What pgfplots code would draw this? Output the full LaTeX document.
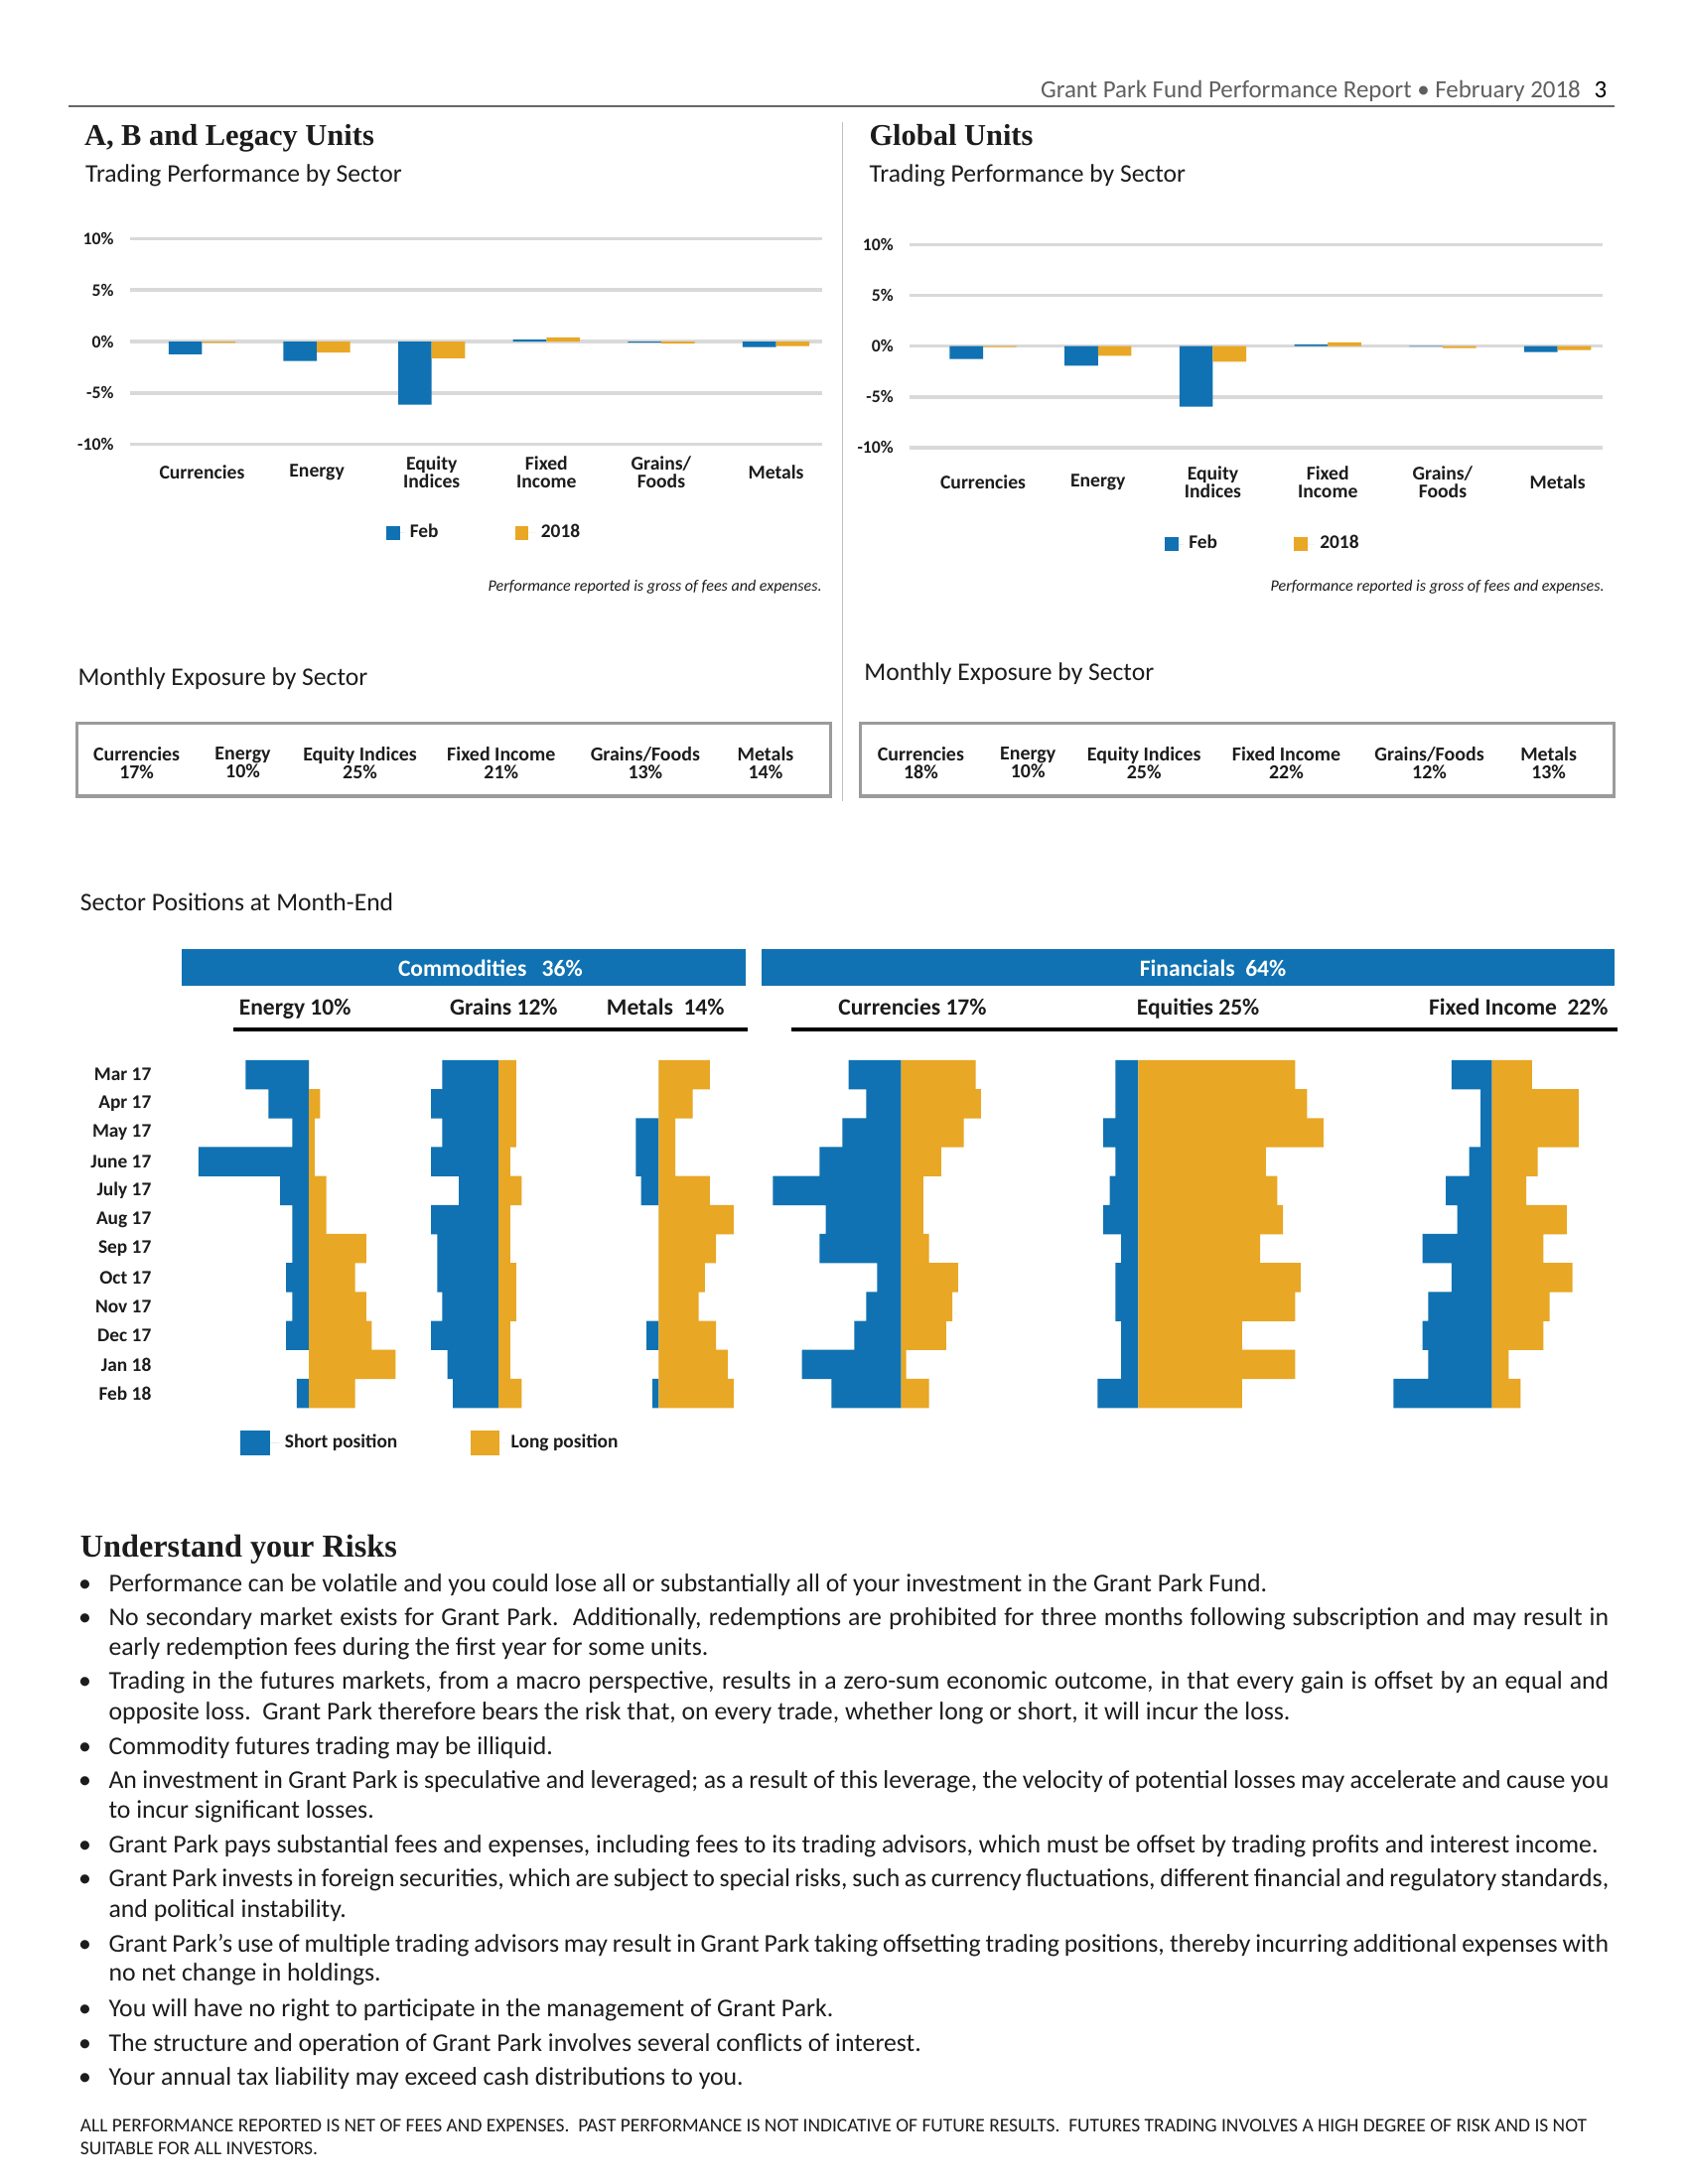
\documentclass[border=0pt]{standalone}
\usepackage{fontspec}
\setmainfont{Carlito}
\newfontfamily\headfont{Liberation Serif}
\usepackage{pgfplots}
\usepackage{pgfplotstable}
\pgfplotsset{compat=1.18}
\definecolor{cblue}{RGB}{16,114,178}
\definecolor{corange}{RGB}{232,167,36}
\definecolor{gridgray}{RGB}{217,217,217}
\definecolor{boxgray}{RGB}{155,155,155}
\definecolor{hdrgray}{RGB}{95,95,95}
\definecolor{txt}{RGB}{28,28,28}
\newcommand\fs[1]{\fontsize{#1}{#1}\selectfont}

% Sector positions at month-end (short <0, long >0), rows Mar 17 ... Feb 18
\pgfplotstableread{
row es el gs gl ms ml cs cl qs ql fis fil
0 -45.5 0.0 -40.4 12.7 0.0 36.7 -37.7 53.6 -16.4 112.6 -29.1 28.7
1 -29.1 8.0 -48.4 12.7 0.0 24.4 -25.0 57.3 -16.4 121.2 -8.2 62.2
2 -12.0 4.0 -40.4 12.7 -16.4 12.0 -42.2 45.0 -25.0 133.0 -8.2 62.2
3 -79.3 4.0 -48.4 8.4 -16.4 12.0 -58.5 28.7 -16.4 91.7 -16.4 32.7
4 -20.7 12.4 -28.4 16.7 -12.7 36.7 -92.1 16.0 -20.5 99.9 -33.2 24.6
5 -12.0 12.4 -48.4 8.4 0.0 53.8 -54.0 16.0 -25.0 104.0 -25.0 53.6
6 -12.0 41.1 -44.0 8.4 0.0 41.1 -58.5 20.1 -12.3 87.6 -49.9 36.8
7 -16.4 33.1 -44.0 12.7 0.0 33.1 -17.2 40.9 -16.4 116.6 -29.1 57.7
8 -12.0 41.1 -40.4 12.7 0.0 28.7 -25.0 36.8 -16.4 112.6 -45.8 41.3
9 -16.4 45.1 -48.4 8.4 -8.7 41.1 -33.6 32.3 -12.3 74.5 -49.9 36.8
10 0.0 62.2 -36.7 8.4 0.0 49.5 -71.2 3.7 -12.3 112.6 -45.8 11.9
11 -8.7 33.1 -32.7 16.7 -4.4 53.8 -49.9 20.1 -29.1 74.5 -70.8 20.5
}\postab

\pgfplotsset{
  perf/.style={
    anchor=south west, scale only axis,
    ymin=-10, ymax=10,
    axis line style={draw=none}, major tick style={draw=none},
    ytick={-10,-5,0,5,10}, yticklabels={-10\%,-5\%,0\%,5\%,10\%},
    ymajorgrids, grid style={line width=1.3bp, color=gridgray},
    xtick={0,1,2,3,4,5},
    xticklabels={Currencies,Energy,{Equity\\Indices},{Fixed\\Income},{Grains/\\Foods},Metals},
    xticklabel style={align=center, anchor=center, inner sep=0pt, font=\bfseries\fontsize{7.1}{6.5}\selectfont, text=txt},
    yticklabel style={anchor=east, inner sep=0pt, font=\bfseries\fs{6.4}, text=txt},
    legend columns=2,
    legend style={draw=none, fill=none, inner sep=0pt, font=\bfseries\fs{7}, text=txt,
      /tikz/every even column/.append style={column sep=25.8bp}},
  },
  posax/.style={
    anchor=south west, x=0.50495bp, y=10.503bp, y dir=reverse,
    xmin=-95, xmax=135, ymin=-0.5, ymax=11.5,
    axis line style={draw=none}, major tick style={draw=none},
    xtick=\empty, ytick=\empty, clip=false,
  },
  shortbar/.style={xbar, bar width=10.6bp, bar shift=0pt, fill=cblue, draw=none},
  longbar/.style={xbar, bar width=10.6bp, bar shift=0pt, fill=corange, draw=none},
}

\begin{document}
\begin{tikzpicture}
\fill[white] (0,0) rectangle (612bp,-791.76bp);
\begin{scope}[x=0.50495bp, y=-0.50495bp, every node/.style={inner sep=0pt, text=txt}]
% header
\node[anchor=base east, font=\fs{9}, text=hdrgray] at (1153.7,70.3) {Grant Park Fund Performance Report • February 2018\hspace{0.55em}\textcolor{black}{3}};
\draw[line width=0.5bp, color=black!60] (49.2,76.3) -- (1159,76.3);
\draw[line width=0.4bp, color=black!25] (605,88) -- (605,575);
% titles
\node[anchor=base west, font=\headfont\bfseries\fs{11}] at (60.2,104.7) {A, B and Legacy Units};
\node[anchor=base west, font=\fs{9.25}] at (61,130.6) {Trading Performance by Sector};
\node[anchor=base west, font=\headfont\bfseries\fs{11}] at (623.6,104.7) {Global Units};
\node[anchor=base west, font=\fs{9.25}] at (623.6,130.6) {Trading Performance by Sector};
% notes
\node[anchor=mid east, font=\itshape\fs{5.8}] at (590.3,419.7) {Performance reported is gross of fees and expenses.};
\node[anchor=mid east, font=\itshape\fs{5.8}] at (1151.9,419.7) {Performance reported is gross of fees and expenses.};
% exposure
\node[anchor=base west, font=\fs{9.25}] at (55.6,492) {Monthly Exposure by Sector};
\node[anchor=base west, font=\fs{9.25}] at (620,488.4) {Monthly Exposure by Sector};
\draw[boxgray, line width=1.1bp] (55,519.5) rectangle (596,571.6);
\draw[boxgray, line width=1.1bp] (617.5,519.5) rectangle (1158.5,571.6);
\begin{scope}[every node/.append style={align=center, font=\bfseries\fontsize{7.2}{6.5}\selectfont}]
\node at (98.1,547.5) {Currencies\\17\%};
\node at (174.3,547.5) {Energy\\10\%};
\node at (258.4,547.5) {Equity Indices\\25\%};
\node at (359.8,547.5) {Fixed Income\\21\%};
\node at (463.2,547.5) {Grains/Foods\\13\%};
\node at (549.5,547.5) {Metals\\14\%};
\node at (661,547.5) {Currencies\\18\%};
\node at (737.8,547.5) {Energy\\10\%};
\node at (821.2,547.5) {Equity Indices\\25\%};
\node at (923.3,547.5) {Fixed Income\\22\%};
\node at (1026,547.5) {Grains/Foods\\12\%};
\node at (1111.6,547.5) {Metals\\13\%};
\end{scope}
% sector positions headings
\node[anchor=base west, font=\fs{9.25}] at (57.3,654.2) {Sector Positions at Month-End};
\fill[cblue] (130.5,681.5) rectangle (535,708);
\fill[cblue] (547,681.5) rectangle (1158.6,708);
\node[text=white, font=\bfseries\fs{8.5}] at (352,694.8) {Commodities\hspace{0.65em}36\%};
\node[text=white, font=\bfseries\fs{8.5}] at (870.6,694.8) {Financials\hspace{0.45em}64\%};
\node[anchor=base, font=\bfseries\fs{8.5}] at (211.8,729) {Energy 10\%};
\node[anchor=base, font=\bfseries\fs{8.5}] at (361.6,729) {Grains 12\%};
\node[anchor=base, font=\bfseries\fs{8.5}] at (477.7,729) {Metals\hspace{0.45em}14\%};
\node[anchor=base, font=\bfseries\fs{8.5}] at (655,729) {Currencies 17\%};
\node[anchor=base, font=\bfseries\fs{8.5}] at (860,729) {Equities 25\%};
\node[anchor=base east, font=\bfseries\fs{8.5}] at (1154.7,729) {Fixed Income\hspace{0.45em}22\%};
\draw[line width=1.2bp] (167.6,739) -- (536.4,739);
\draw[line width=1.2bp] (567.8,739) -- (1161,739);
% risks
\node[anchor=base west, font=\headfont\bfseries\fs{11.65}] at (57.3,1118) {Understand your Risks};
\begin{scope}[every node/.append style={font=\fs{9.3}}]
\foreach \yy in {1138.4,1162.2,1207.8,1254.9,1279.3,1325.7,1350,1396.9,1443.1,1468.3,1492.1}
  \node[anchor=mid] at (61,\yy) {•};
\node[anchor=mid west] at (77.7,1138.4) {Performance can be volatile and you could lose all or substantially all of your investment in the Grant Park Fund.};
\node[anchor=mid west] at (77.7,1162.2) {\makebox[543.7bp][s]{No secondary market exists for Grant Park.\ \ Additionally, redemptions are prohibited for three months following subscription and may result in}};
\node[anchor=mid west] at (77.7,1183.6) {early redemption fees during the first year for some units.};
\node[anchor=mid west] at (77.7,1207.8) {\makebox[543.7bp][s]{Trading in the futures markets, from a macro perspective, results in a zero-sum economic outcome, in that every gain is offset by an equal and}};
\node[anchor=mid west] at (77.7,1230) {opposite loss.\ \ Grant Park therefore bears the risk that, on every trade, whether long or short, it will incur the loss.};
\node[anchor=mid west] at (77.7,1254.9) {Commodity futures trading may be illiquid.};
\node[anchor=mid west] at (77.7,1279.3) {\makebox[543.7bp][s]{An investment in Grant Park is speculative and leveraged; as a result of this leverage, the velocity of potential losses may accelerate and cause you}};
\node[anchor=mid west] at (77.7,1300.7) {to incur significant losses.};
\node[anchor=mid west] at (77.7,1325.7) {Grant Park pays substantial fees and expenses, including fees to its trading advisors, which must be offset by trading profits and interest income.};
\node[anchor=mid west] at (77.7,1350) {\makebox[543.7bp][s]{Grant Park invests in foreign securities, which are subject to special risks, such as currency fluctuations, different financial and regulatory standards,}};
\node[anchor=mid west] at (77.7,1371.8) {and political instability.};
\node[anchor=mid west] at (77.7,1396.9) {\makebox[543.7bp][s]{Grant Park’s use of multiple trading advisors may result in Grant Park taking offsetting trading positions, thereby incurring additional expenses with}};
\node[anchor=mid west] at (77.7,1417.7) {no net change in holdings.};
\node[anchor=mid west] at (77.7,1443.1) {You will have no right to participate in the management of Grant Park.};
\node[anchor=mid west] at (77.7,1468.3) {The structure and operation of Grant Park involves several conflicts of interest.};
\node[anchor=mid west] at (77.7,1492.1) {Your annual tax liability may exceed cash distributions to you.};
\end{scope}
\node[anchor=mid west, font=\fs{7.02}] at (57.3,1525.8) {ALL PERFORMANCE REPORTED IS NET OF FEES AND EXPENSES.\ \ PAST PERFORMANCE IS NOT INDICATIVE OF FUTURE RESULTS.\ \ FUTURES TRADING INVOLVES A HIGH DEGREE OF RISK AND IS NOT};
\node[anchor=mid west, font=\fs{7.02}] at (57.3,1542.5) {SUITABLE FOR ALL INVESTORS.};
\end{scope}

% ---------- A, B and Legacy Units ----------
\begin{axis}[perf, at={(47.31bp,-161.08bp)}, width=250.6bp, height=74.53bp,
  xmin=-0.623, xmax=5.40,
  xticklabel style={yshift=-10.1bp}, yticklabel style={xshift=-5.9bp},
  legend style={at={(0.369,-0.4316)}, anchor=west}]
\addplot[ybar, bar width=12.1bp, bar shift=-6.05bp, fill=cblue, draw=none,
  legend image code/.code={\path (0bp,0bp) -- (6.6bp,0bp); \fill[cblue] (0bp,-2.4bp) rectangle (4.9bp,2.4bp);}]
  coordinates {(0,-1.24) (1,-1.90) (2,-6.14) (3,0.20) (4,-0.10) (5,-0.55)};
\addplot[ybar, bar width=12.1bp, bar shift=6.05bp, fill=corange, draw=none,
  legend image code/.code={\path (0bp,0bp) -- (7.4bp,0bp); \fill[corange] (0bp,-2.4bp) rectangle (4.9bp,2.4bp);}]
  coordinates {(0,-0.12) (1,-1.07) (2,-1.62) (3,0.40) (4,-0.20) (5,-0.45)};
\legend{Feb,2018}
\end{axis}

% ---------- Global Units ----------
\begin{axis}[perf, at={(329.73bp,-162.24bp)}, width=250.96bp, height=73.52bp,
  xmin=-0.638, xmax=5.388,
  xticklabel style={yshift=-12.7bp}, yticklabel style={xshift=-5.7bp},
  legend style={at={(0.368,-0.476)}, anchor=west}]
\addplot[ybar, bar width=12.1bp, bar shift=-6.05bp, fill=cblue, draw=none,
  legend image code/.code={\path (0bp,0bp) -- (6.6bp,0bp); \fill[cblue] (0bp,-2.4bp) rectangle (4.9bp,2.4bp);}]
  coordinates {(0,-1.27) (1,-1.92) (2,-5.96) (3,0.17) (4,-0.05) (5,-0.58)};
\addplot[ybar, bar width=12.1bp, bar shift=6.05bp, fill=corange, draw=none,
  legend image code/.code={\path (0bp,0bp) -- (7.4bp,0bp); \fill[corange] (0bp,-2.4bp) rectangle (4.9bp,2.4bp);}]
  coordinates {(0,-0.10) (1,-0.96) (2,-1.54) (3,0.38) (4,-0.20) (5,-0.38)};
\legend{Feb,2018}
\end{axis}

% ---------- Sector positions ----------
\begin{axis}[posax, at={(64.03bp,-510.40bp)},
  ytick={0,...,11},
  yticklabels={Mar 17,Apr 17,May 17,June 17,July 17,Aug 17,Sep 17,Oct 17,Nov 17,Dec 17,Jan 18,Feb 18},
  yticklabel style={anchor=east, inner sep=0pt, xshift=-9bp, font=\bfseries\fs{7}, text=txt},
  legend columns=2,
  legend style={at={(0.1965,-0.1018)}, anchor=west, draw=none, fill=none, inner sep=0pt,
    font=\bfseries\fs{7}, text=txt, /tikz/every even column/.append style={column sep=24.6bp}}]
\addplot[shortbar, legend image code/.code={\path (0bp,0bp) -- (14.2bp,0bp); \fill[cblue] (0bp,-4.5bp) rectangle (10.8bp,4.5bp);}] table[x=es, y=row] {\postab};
\addplot[longbar, legend image code/.code={\path (0bp,0bp) -- (12.6bp,0bp); \fill[corange] (0bp,-4.5bp) rectangle (10.2bp,4.5bp);}] table[x=el, y=row] {\postab};
\legend{Short position, Long position}
\end{axis}
\begin{axis}[posax, at={(132.70bp,-510.40bp)}]
\addplot[shortbar] table[x=gs, y=row] {\postab};
\addplot[longbar] table[x=gl, y=row] {\postab};
\end{axis}
\begin{axis}[posax, at={(190.77bp,-510.40bp)}]
\addplot[shortbar] table[x=ms, y=row] {\postab};
\addplot[longbar] table[x=ml, y=row] {\postab};
\end{axis}
\begin{axis}[posax, at={(278.63bp,-510.40bp)}]
\addplot[shortbar] table[x=cs, y=row] {\postab};
\addplot[longbar] table[x=cl, y=row] {\postab};
\end{axis}
\begin{axis}[posax, at={(364.57bp,-510.40bp)}]
\addplot[shortbar] table[x=qs, y=row] {\postab};
\addplot[longbar] table[x=ql, y=row] {\postab};
\end{axis}
\begin{axis}[posax, at={(492.83bp,-510.40bp)}]
\addplot[shortbar] table[x=fis, y=row] {\postab};
\addplot[longbar] table[x=fil, y=row] {\postab};
\end{axis}

\pgfresetboundingbox
\path[use as bounding box] (0,0) rectangle (612bp,-791.76bp);
\end{tikzpicture}
\end{document}
